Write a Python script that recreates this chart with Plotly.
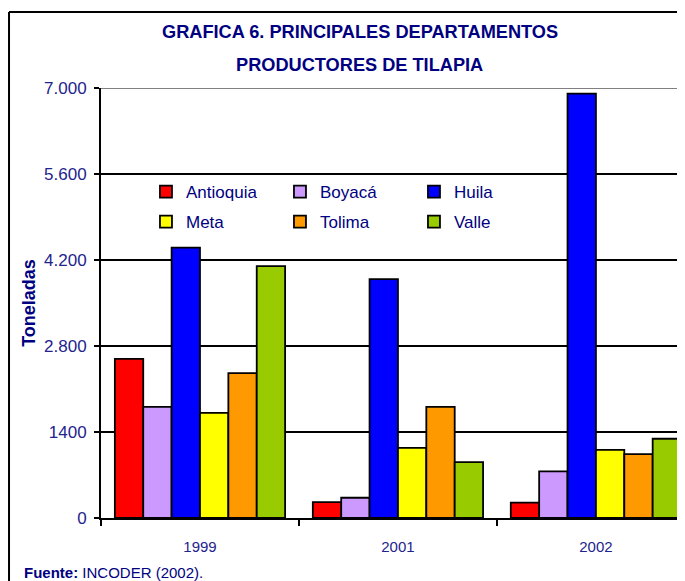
import plotly.graph_objects as go

years = ["1999", "2001", "2002"]
departamentos = ["Antioquia", "Boyacá", "Huila", "Meta", "Tolima", "Valle"]
antioquia = [2590, 260, 250]
boyaca = [1810, 330, 760]
huila = [4400, 3890, 6910]
meta = [1710, 1140, 1110]
tolima = [2360, 1810, 1040]
valle = [4100, 910, 1290]
y_ticks = [0, 1400, 2800, 4200, 5600, 7000]
y_tick_labels = ["0", "1400", "2.800", "4.200", "5.600", "7.000"]

series = [antioquia, boyaca, huila, meta, tolima, valle]
colores = ["#FF0000", "#CC99FF", "#0000FF", "#FFFF00", "#FF9900", "#99CC00"]
navy = "#000080"
tick_navy = "#23238E"

fig = go.Figure()

for i, (name, vals) in enumerate(zip(departamentos, series)):
    fig.add_trace(
        go.Bar(
            x=years,
            y=vals,
            name=name,
            marker=dict(color=colores[i], line=dict(color="black", width=1.8)),
            # primera fila en legend, segunda en legend2
            legend="legend" if i < 3 else "legend2",
        )
    )

legend_style = dict(
    orientation="h",
    xanchor="left",
    yanchor="middle",
    x=0.077,
    entrywidth=89,
    bgcolor="rgba(0,0,0,0)",
    font=dict(family="Liberation Sans, Arial", size=17, color=navy),
    itemclick=False,
)

# la pagina tiene 8px de margen en body, por eso 677x573
fig.update_layout(
    width=677,
    height=573,
    margin=dict(l=93, r=0, t=80, b=63),
    paper_bgcolor="white",
    plot_bgcolor="white",
    barmode="group",
    bargap=0.14,
    bargroupgap=0,
    showlegend=True,
    legend=dict(legend_style, y=0.758),
    legend2=dict(legend_style, y=0.688),
    xaxis=dict(
        range=[-0.5, 2.45],
        showline=True,
        linecolor="black",
        linewidth=2,
        ticks="outside",
        tickson="boundaries",
        ticklen=6,
        tickwidth=1.5,
        tickcolor="black",
        ticklabelstandoff=14,
        tickfont=dict(family="Liberation Sans, Arial", size=15, color=tick_navy),
        showgrid=False,
        fixedrange=True,
    ),
    yaxis=dict(
        range=[0, 7000],
        tickvals=y_ticks,
        ticktext=y_tick_labels,
        showline=True,
        linecolor="black",
        linewidth=2,
        ticks="outside",
        ticklen=5,
        tickwidth=1.5,
        tickcolor="black",
        ticklabelstandoff=4,
        showgrid=True,
        gridcolor="black",
        gridwidth=1.5,
        zeroline=False,
        tickfont=dict(family="Liberation Sans, Arial", size=17, color=tick_navy),
        title=dict(
            text="<b>Toneladas</b>",
            font=dict(family="Liberation Sans, Arial", size=18, color=navy),
            standoff=4,
        ),
        fixedrange=True,
    ),
)

fig.add_annotation(
    text="<b>GRAFICA 6. PRINCIPALES DEPARTAMENTOS</b>",
    xref="paper", yref="paper", x=0.443, y=(510 - 24) / 430,
    xanchor="center", yanchor="middle", showarrow=False,
    font=dict(family="Liberation Sans, Arial", size=18.2, color=navy),
)
fig.add_annotation(
    text="<b>PRODUCTORES DE TILAPIA</b>",
    xref="paper", yref="paper", x=0.443, y=(510 - 57) / 430,
    xanchor="center", yanchor="middle", showarrow=False,
    font=dict(family="Liberation Sans, Arial", size=18.2, color=navy),
)

# marco exterior
fig.add_shape(type="line", xref="paper", yref="paper",
              x0=-0.1575, x1=1.02, y0=1.1767, y1=1.1767,
              line=dict(color="black", width=2))
fig.add_shape(type="line", xref="paper", yref="paper",
              x0=-0.1575, x1=-0.1575, y0=1.1767, y1=-0.16,
              line=dict(color="black", width=2))
# linea superior gris
fig.add_shape(type="line", xref="paper", yref="y",
              x0=0, x1=1, y0=7000, y1=7000,
              line=dict(color="#808080", width=2))

fig.add_annotation(
    text="<b>Fuente:</b> INCODER (2002).",
    xref="paper", yref="paper",
    x=(14 - 93) / 584, y=(510 - 564) / 430,
    xanchor="left", yanchor="middle",
    showarrow=False,
    font=dict(family="Liberation Sans, Arial", size=15, color=navy),
)

fig.write_html("out.html")
